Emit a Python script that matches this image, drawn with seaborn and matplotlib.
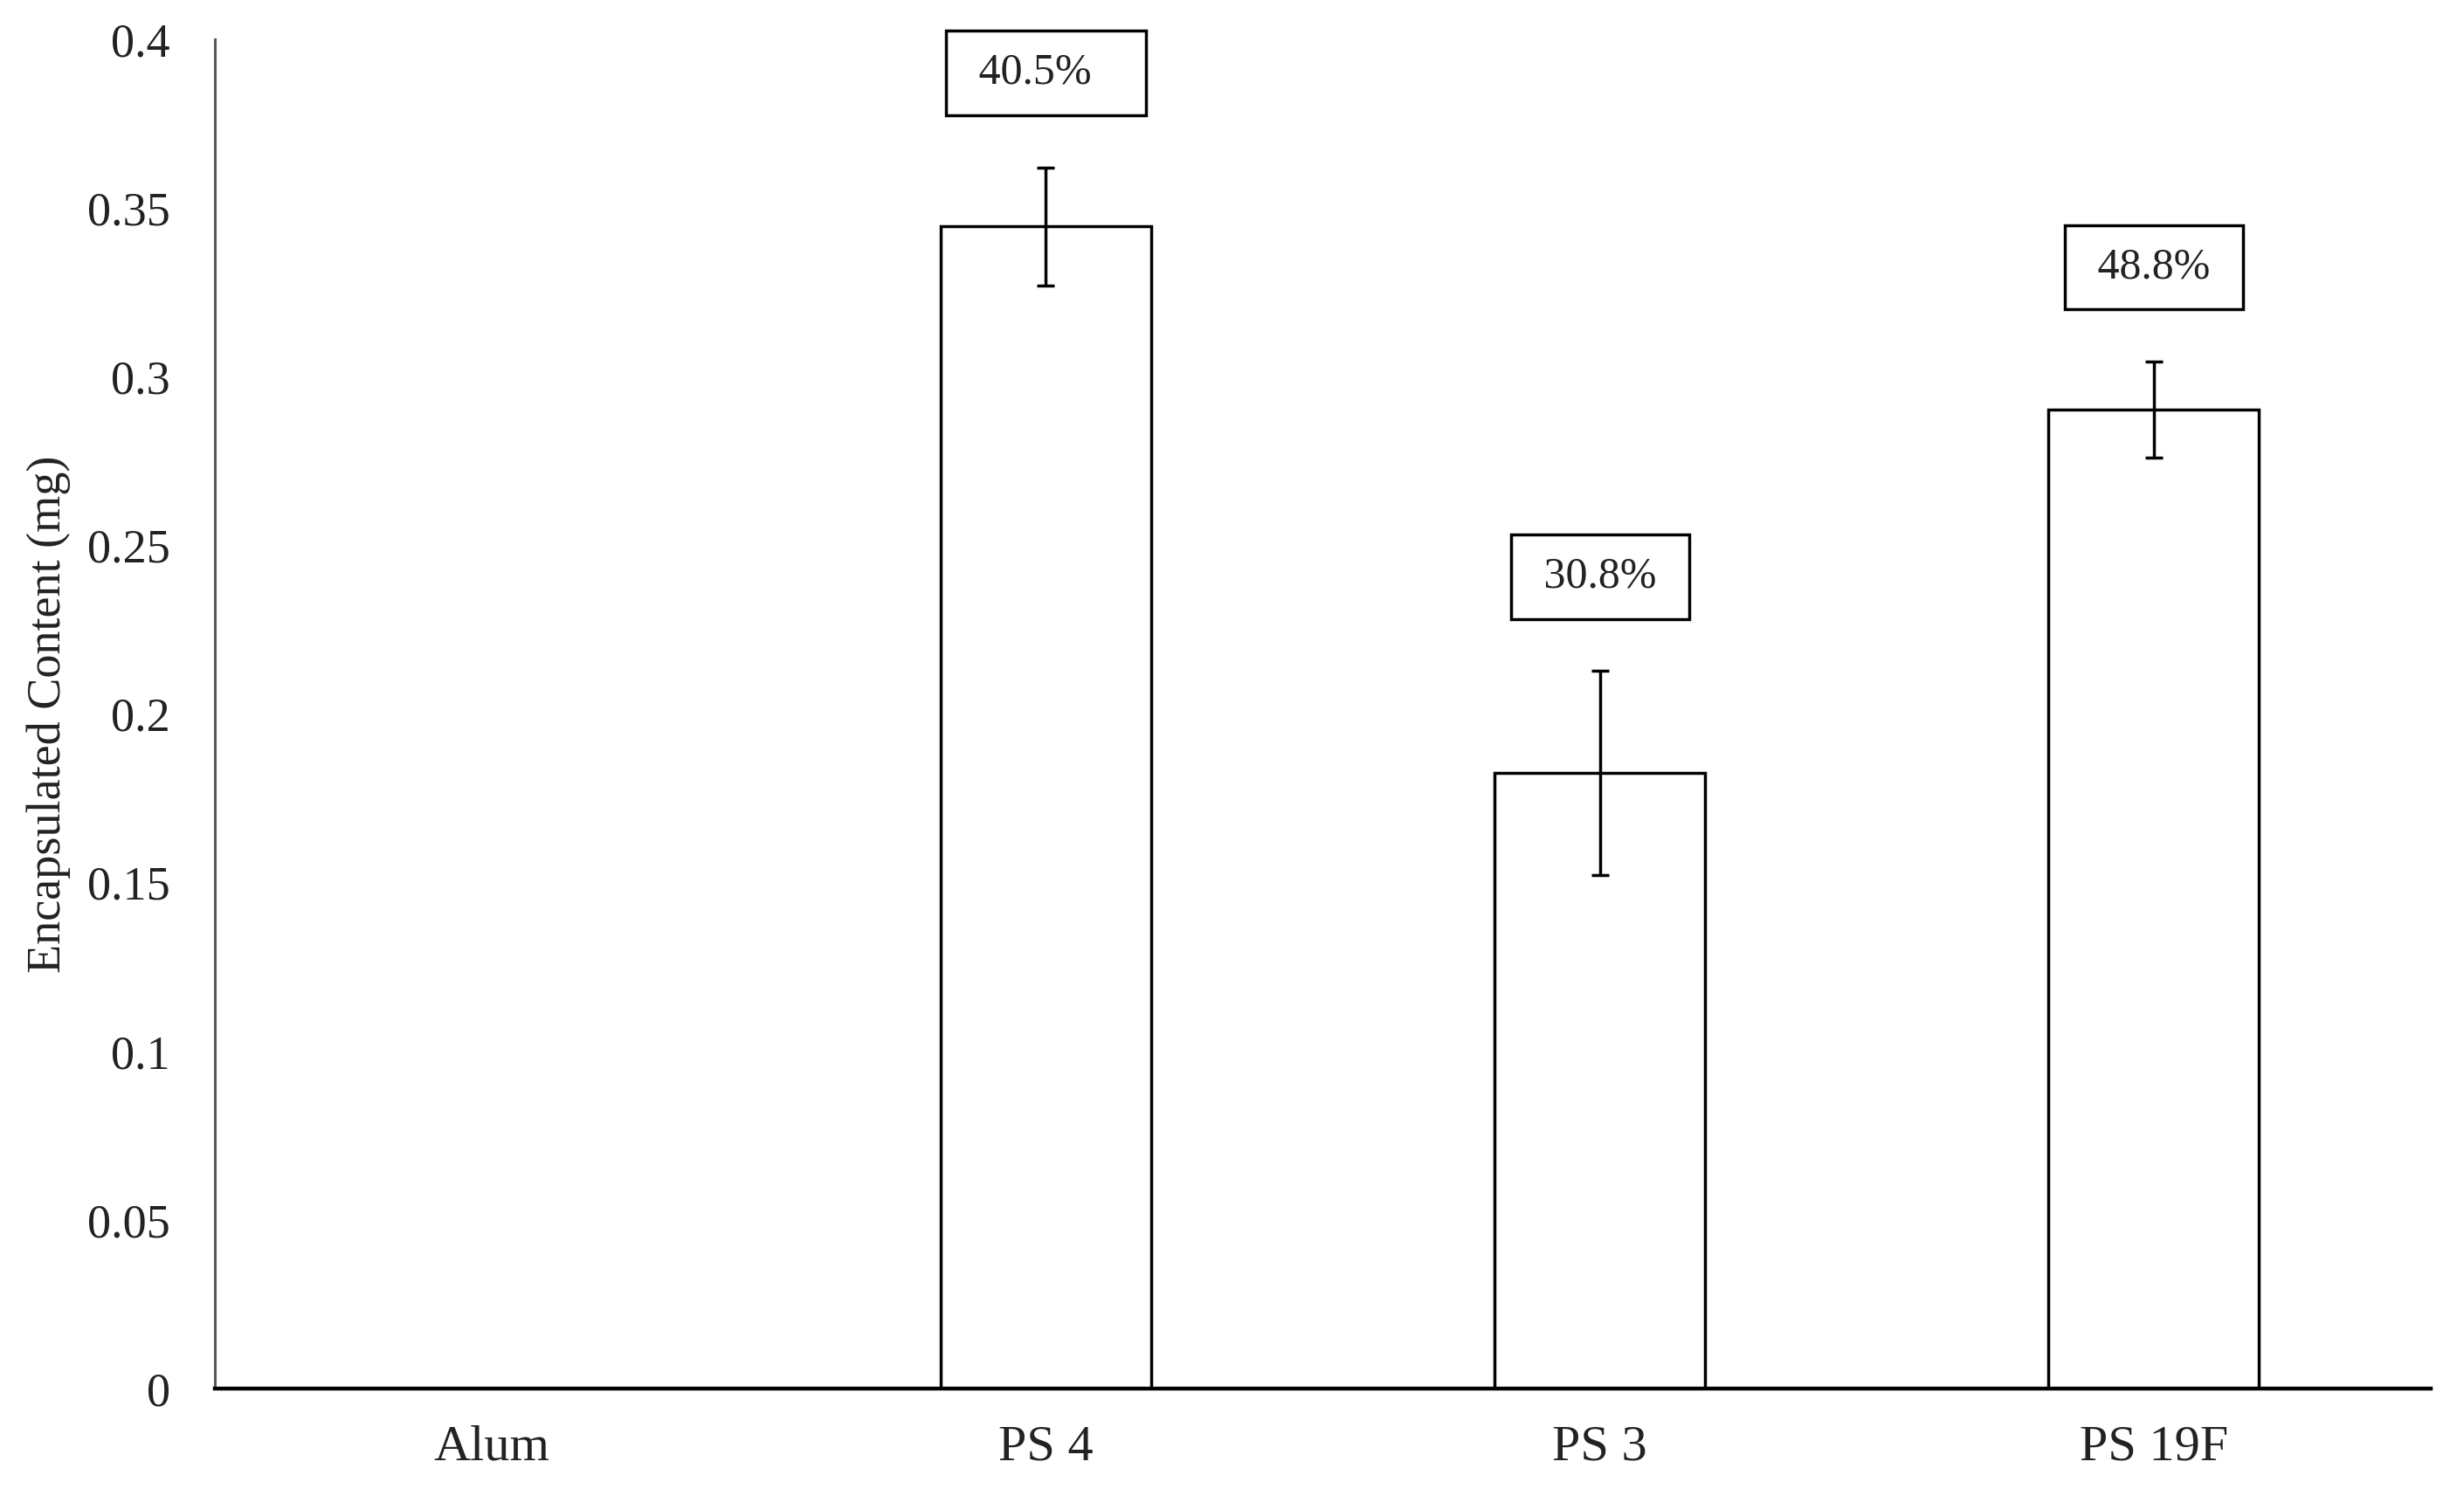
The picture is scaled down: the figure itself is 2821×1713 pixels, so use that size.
import numpy as np
import pandas as pd
import matplotlib
matplotlib.use("Agg")
import matplotlib.pyplot as plt
import seaborn as sns

# data
categories = ["Alum", "PS 4", "PS 3", "PS 19F"]
content_mg = [0.0, 0.3445, 0.1825, 0.2902]
err_mg = [0.0, 0.0175, 0.0302, 0.0143]
pct_labels = [None, "40.5%", "30.8%", "48.8%"]
y_ticks = [0, 0.05, 0.1, 0.15, 0.2, 0.25, 0.3, 0.35, 0.4]
y_tick_labels = ["0", "0.05", "0.1", "0.15", "0.2", "0.25", "0.3", "0.35", "0.4"]

df = pd.DataFrame({"Sample": categories, "Content": content_mg, "Err": err_mg})

sns.set_style("white")
plt.rcParams["font.family"] = ["Liberation Serif", "DejaVu Serif"]

fig = plt.figure(figsize=(28.21, 17.13), dpi=100)
ax = fig.add_axes([0.0872, 0.0718, 0.8993, 0.9019])

sns.barplot(data=df, x="Sample", y="Content", order=categories, color="white",
            edgecolor="black", linewidth=2.5, width=0.38, errorbar=None, ax=ax)

# error bars (only for the non-zero bars)
ax.errorbar(categories[1:], content_mg[1:], yerr=err_mg[1:], fmt="none",
            ecolor="black", elinewidth=2.5, capsize=7, capthick=2.5, zorder=5)

# percentage boxes above the bars
for i, lab in enumerate(pct_labels):
    if lab is None:
        continue
    txt = " " + lab + ("   " if i == 1 else " ")
    ax.text(i, content_mg[i] + err_mg[i] + 0.028, txt, ha="center", va="center",
            fontsize=36, color="#222222",
            bbox=dict(boxstyle="square,pad=0.5", facecolor="white",
                      edgecolor="black", linewidth=2.5))

ax.set_xlim(-0.5, 3.5)
ax.set_ylim(0, 0.4)
ax.set_yticks(y_ticks)
ax.set_yticklabels(y_tick_labels)
ax.tick_params(axis="y", length=0, pad=37, labelsize=39, colors="#222222")
ax.tick_params(axis="x", length=0, pad=30, labelsize=42, colors="#222222")
ax.set_xlabel("")
ax.set_ylabel("Encapsulated Content (mg)", fontsize=39, color="#222222")
ax.yaxis.set_label_coords(-0.065, 0.5)

sns.despine(ax=ax)
ax.spines["left"].set_color("#595959")
ax.spines["left"].set_linewidth(2.2)
ax.spines["bottom"].set_color("black")
ax.spines["bottom"].set_linewidth(3.2)
ax.spines["bottom"].set_zorder(6)

fig.savefig("out.png", dpi=100, facecolor="white")
